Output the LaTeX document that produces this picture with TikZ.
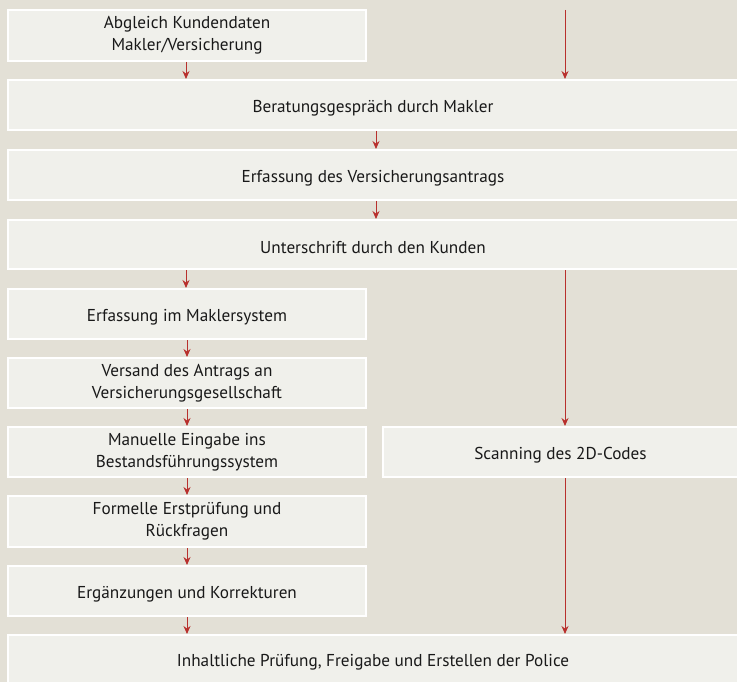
\documentclass[tikz,border=0pt]{standalone}
\usepackage{fontspec}
\setmainfont{PT Sans}
\usetikzlibrary{arrows.meta}
\definecolor{bg}{HTML}{E3E0D6}
\definecolor{boxfill}{HTML}{F0F0EB}
\definecolor{arr}{HTML}{B8302D}
\tikzset{
  box/.style={draw=white, line width=2pt, fill=boxfill, inner sep=0pt, align=center, font=\fontsize{17.2}{22}\selectfont, text=black!90},
  flow/.style={draw=arr, line width=1pt, -{Stealth[length=8pt,width=7pt]}}
}
\newcommand{\dn}[1]{\raisebox{-3pt}[\height][\depth]{#1}}
\begin{document}
\begin{tikzpicture}[x=1pt,y=-1pt]
\fill[bg] (0,0) rectangle (737,682);
\useasboundingbox (0,0) rectangle (737,682);
\newcommand{\bx}[6]{\node[box, minimum width=#4-#2, minimum height=#5-#3] (#1) at ({(#2+#4)/2},{(#3+#5)/2}) {#6};}
\bx{b1}{8}{10}{366}{61}{Abgleich Kundendaten\\Makler/Versicherung}
\bx{b2}{8}{80}{738}{130}{\dn{Beratungsgespräch durch Makler}}
\bx{b3}{8}{150}{738}{200}{\dn{Erfassung des Versicherungsantrags}}
\bx{b4}{8}{220}{738}{269}{\dn{Unterschrift durch den Kunden}}
\bx{b5}{8}{289}{366}{339}{\dn{Erfassung im Maklersystem}}
\bx{b6}{8}{358}{366}{408}{Versand des Antrags an\\Versicherungsgesellschaft}
\bx{b7}{8}{427}{366}{477}{Manuelle Eingabe ins\\Bestandsführungssystem}
\bx{b8}{8}{496}{366}{547}{Formelle Erstprüfung und\\Rückfragen}
\bx{b9}{8}{566}{366}{616}{\dn{Ergänzungen und Korrekturen}}
\bx{b10}{8}{635}{738}{684}{\dn{Inhaltliche Prüfung, Freigabe und Erstellen der Police}}
\bx{s}{383}{427}{738}{477}{\dn{Scanning des 2D-Codes}}
\coordinate (top) at (565,10);
% left column arrows
\draw[flow] (b1.south -| 186,0) -- (b2.north -| 186,0);
\draw[flow] (b2.south -| 376,0) -- (b3.north -| 376,0);
\draw[flow] (b3.south -| 376,0) -- (b4.north -| 376,0);
\draw[flow] (b4.south -| 186,0) -- (b5.north -| 186,0);
\draw[flow] (b5) -- (b6);
\draw[flow] (b6) -- (b7);
\draw[flow] (b7) -- (b8);
\draw[flow] (b8) -- (b9);
\draw[flow] (b9.south) -- (b10.north -| b9.south);
% right column
\draw[flow] (top) -- (b2.north -| top);
\draw[flow] (b4.south -| top) -- (s.north -| top);
\draw[flow] (s.south -| top) -- (b10.north -| top);
\end{tikzpicture}
\end{document}
